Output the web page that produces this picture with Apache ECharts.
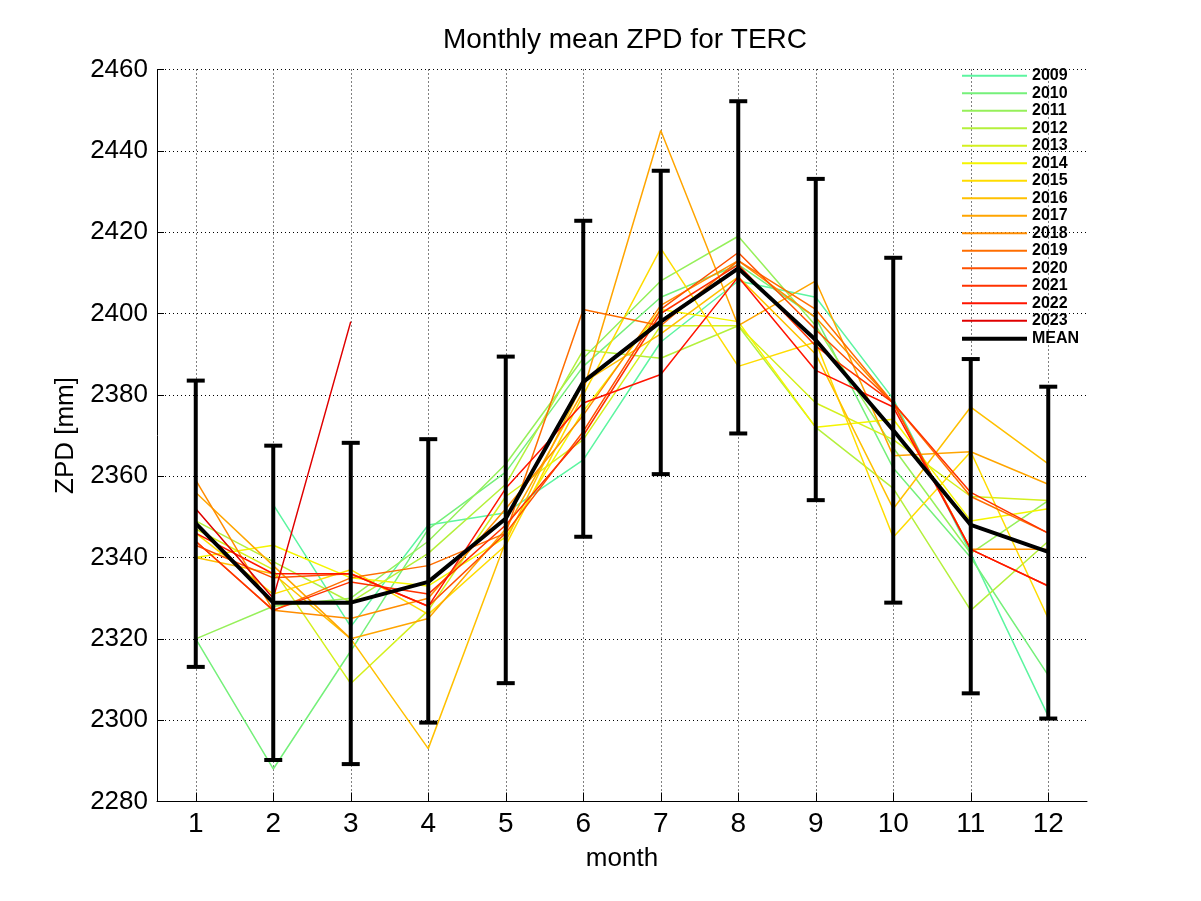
<!DOCTYPE html>
<html>
<head>
<meta charset="utf-8">
<script src="https://cdn.jsdelivr.net/npm/echarts@6/dist/echarts.min.js"></script>
<style>html,body{margin:0;padding:0;background:#fff;}#c{width:1201px;height:901px;}</style>
</head>
<body>
<div id="c"></div>
<script>
const months = [1, 2, 3, 4, 5, 6, 7, 8, 9, 10, 11, 12];
const yTicks = [2280, 2300, 2320, 2340, 2360, 2380, 2400, 2420, 2440, 2460];
const years = ['2009','2010','2011','2012','2013','2014','2015','2016','2017','2018','2019','2020','2021','2022','2023'];
const yearColors = ['#5CF5A0','#75F07A','#96F05A','#B4F03C','#D4F01E','#F5F500','#FFDC00','#FFC000','#FFA500','#FF8C00','#FF6E00','#FF5000','#FF3200','#FF1400','#E00000'];

const zpd2009 = [null, 2353, 2323, 2348, 2351, 2364, 2393, 2408, 2404, 2379, 2341, 2301];
const zpd2010 = [2320, 2288, 2317, 2347, 2361, 2387, 2404, 2412, 2399, 2362, 2340, 2311];
const zpd2011 = [2320, 2328, 2330, 2344, 2363, 2389, 2408, 2419, 2397, 2367, 2341, 2354];
const zpd2012 = [2349, 2339, 2329, 2341, 2358, 2391, 2389, 2397, 2372, 2357, 2327, 2344];
const zpd2013 = [2347, 2337, 2309, 2327, 2355, 2369, 2397, 2397, 2378, 2369, 2355, 2354];
const zpd2014 = [2340, 2343, 2335, 2333, 2345, 2376, 2401, 2398, 2372, 2374, 2349, 2352];
const zpd2015 = [2346, 2331, 2337, 2326, 2343, 2380, 2416, 2387, 2393, 2345, 2366, 2325];
const zpd2016 = [2340, 2336, 2320, 2293, 2344, 2383, 2395, 2409, 2390, 2352, 2377, 2363];
const zpd2017 = [2356, 2338, 2320, 2325, 2347, 2381, 2445, 2397, 2408, 2365, 2366, 2358];
const zpd2018 = [2359, 2327, 2325, 2330, 2352, 2375, 2402, 2413, 2399, 2378, 2342, 2342];
const zpd2019 = [2344, 2327, 2335, 2338, 2346, 2401, 2397, 2413, 2401, 2378, 2355, 2346];
const zpd2020 = [2343, 2335, 2336, 2328, 2346, 2371, 2401, 2415, 2396, 2378, 2342, 2333];
const zpd2021 = [2344, 2327, 2334, 2331, 2348, 2370, 2400, 2412, 2392, 2378, 2356, 2346];
const zpd2022 = [2346, 2336, 2336, 2328, 2357, 2378, 2385, 2409, 2386, 2377, 2342, 2333];
const zpd2023 = [2352, 2330, 2398];

const meanZPD = [2348.4, 2328.9, 2328.9, 2334.0, 2349.6, 2383.2, 2398.0, 2411.1, 2393.5, 2371.3, 2348.0, 2341.4];
const errLow  = [2313.1, 2290.2, 2289.2, 2299.4, 2309.1, 2345.1, 2360.5, 2370.5, 2354.1, 2328.9, 2306.6, 2300.4];
const errHigh = [2383.5, 2367.5, 2368.2, 2369.1, 2389.4, 2422.8, 2435.1, 2452.2, 2433.1, 2413.7, 2388.8, 2382.0];

const yearData = [zpd2009, zpd2010, zpd2011, zpd2012, zpd2013, zpd2014, zpd2015, zpd2016, zpd2017, zpd2018, zpd2019, zpd2020, zpd2021, zpd2022, zpd2023];

const FONT = '"Liberation Sans", Arial, Helvetica, sans-serif';

const series = years.map((y, k) => ({
  name: y,
  type: 'line',
  symbol: 'none',
  color: yearColors[k],
  lineStyle: { width: 1.5, color: yearColors[k] },
  data: yearData[k].map((v, i) => [months[i], v]).filter(p => p[1] !== null),
  z: 2,
  silent: true
}));

series.push({
  name: 'errorbars',
  type: 'custom',
  z: 5,
  silent: true,
  data: months.map((m, i) => [m, errLow[i], errHigh[i]]),
  renderItem: function (params, api) {
    const x = api.value(0);
    const lo = api.coord([x, api.value(1)]);
    const hi = api.coord([x, api.value(2)]);
    const hw = 9;
    const style = { stroke: '#000', lineWidth: 4 };
    return {
      type: 'group',
      children: [
        { type: 'line', shape: { x1: lo[0], y1: lo[1], x2: hi[0], y2: hi[1] }, style: style },
        { type: 'line', shape: { x1: lo[0] - hw, y1: lo[1], x2: lo[0] + hw, y2: lo[1] }, style: style },
        { type: 'line', shape: { x1: hi[0] - hw, y1: hi[1], x2: hi[0] + hw, y2: hi[1] }, style: style }
      ]
    };
  }
});

series.push({
  name: 'MEAN',
  type: 'line',
  symbol: 'none',
  color: '#000',
  lineStyle: { width: 4, color: '#000' },
  data: months.map((m, i) => [m, meanZPD[i]]),
  z: 6,
  silent: true
});

const chart = echarts.init(document.getElementById('c'), null, { renderer: 'canvas' });
chart.setOption({
  animation: false,
  backgroundColor: '#fff',
  title: {
    text: 'Monthly mean ZPD for TERC',
    left: 620,
    textAlign: 'center',
    top: 21,
    textStyle: { fontFamily: FONT, fontSize: 28, fontWeight: 'normal', color: '#000' }
  },
  legend: [
    {
      data: years,
      orient: 'vertical',
      left: 962,
      top: 67,
      itemWidth: 65,
      itemHeight: 2,
      itemGap: 0,
      icon: 'rect',
      padding: 0,
      textStyle: { fontFamily: FONT, fontSize: 16, fontWeight: 'bold', color: '#000', lineHeight: 17.5 },
      selectedMode: false
    },
    {
      data: ['MEAN'],
      orient: 'vertical',
      left: 962,
      top: 330,
      itemWidth: 65,
      itemHeight: 4,
      itemGap: 0,
      icon: 'rect',
      padding: 0,
      textStyle: { fontFamily: FONT, fontSize: 16, fontWeight: 'bold', color: '#000', lineHeight: 17.5 },
      selectedMode: false
    }
  ],
  grid: { left: 157, right: 114, top: 69.5, bottom: 99.5, containLabel: false },
  xAxis: {
    type: 'value',
    min: 0.5,
    max: 12.5,
    name: 'month',
    nameLocation: 'middle',
    nameGap: 44,
    nameTextStyle: { fontFamily: FONT, fontSize: 26, color: '#000' },
    axisLine: { show: true, lineStyle: { color: '#000', width: 1 } },
    axisTick: { show: true, inside: true, length: 9, customValues: months, lineStyle: { color: '#000' } },
    axisLabel: { customValues: months, margin: 9, fontFamily: FONT, fontSize: 28, color: '#000' },
    splitLine: { show: true, customValues: months, lineStyle: { color: '#000', type: [1, 3], width: 1 } }
  },
  yAxis: {
    type: 'value',
    min: 2280,
    max: 2460,
    interval: 20,
    name: 'ZPD [mm]',
    nameLocation: 'middle',
    nameGap: 66,
    nameTextStyle: { fontFamily: FONT, fontSize: 26, color: '#000' },
    axisLine: { show: true, lineStyle: { color: '#000', width: 1 } },
    axisTick: { show: true, inside: true, length: 7, lineStyle: { color: '#000' } },
    axisLabel: { margin: 9, fontFamily: FONT, fontSize: 26, color: '#000', formatter: function (v) { return String(v); } },
    splitLine: { show: true, lineStyle: { color: '#000', type: [1, 3], width: 1 } }
  },
  series: series
});
</script>
</body>
</html>
